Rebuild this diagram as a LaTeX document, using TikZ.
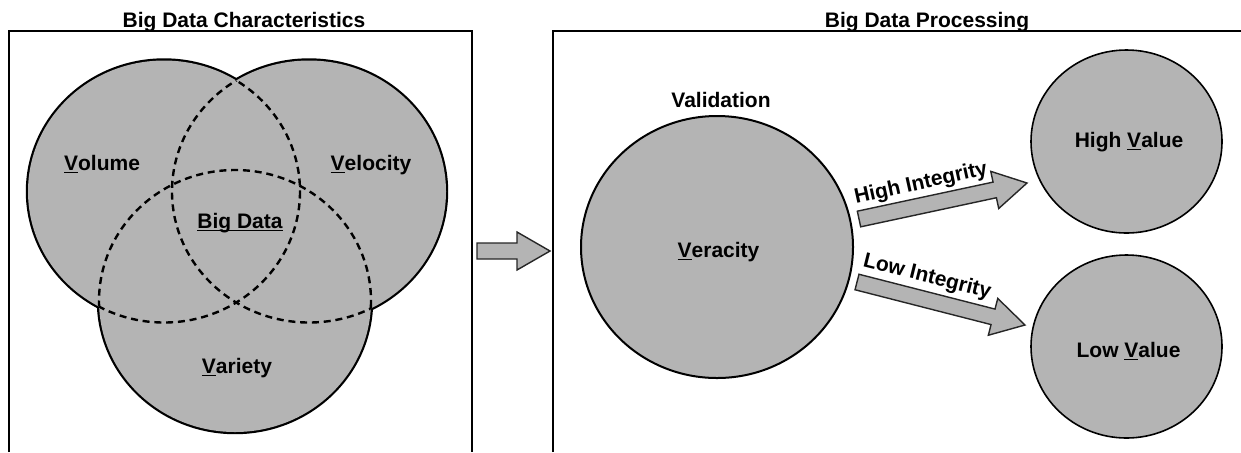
\documentclass[tikz,border=0pt]{standalone}
\usepackage{fontspec}
\setmainfont{Liberation Sans}
\usepackage{tikz}
\usetikzlibrary{calc}
\usetikzlibrary{shapes.geometric}

\definecolor{venngray}{RGB}{180,180,180}

\tikzset{
    lbl/.style = {font=\bfseries\fontsize{10.5}{12}\selectfont, anchor=base, inner sep=0pt},
    tag/.style = {font=\bfseries\fontsize{10.5}{12}\selectfont, inner sep=0pt},
    frame/.style = {line width=1pt},
    blob/.style = {draw, fill=venngray, ellipse, inner sep=0pt},
    fatarrow/.style = {draw=black!85, line width=0.7pt, fill=venngray, line join=miter},
    innerdash/.style = {line width=1.2pt, dash pattern=on 3.5pt off 2.4pt}
}

% block arrow from #1 to #2
\newcommand{\fatarrowline}[2]{%
    \coordinate (#1#2h) at ($(#2)!16.5pt!(#1)$);
    \draw [fatarrow] ($(#1)!4pt!90:(#2)$) -- ($(#1#2h)!4pt!90:(#2)$)
        -- ($(#1#2h)!9.5pt!90:(#2)$) -- (#2)
        -- ($(#1#2h)!9.5pt!-90:(#2)$) -- ($(#1#2h)!4pt!-90:(#2)$)
        -- ($(#1)!4pt!-90:(#2)$) -- cycle;
}

\begin{document}
\begin{tikzpicture}[x=0.5pt, y=-0.5pt]
\useasboundingbox (0, 0) rectangle (1241, 452);

% frames
\draw [frame] (9, 452) -- (9, 31) -- (472, 31) -- (472, 452);
\draw [frame] (553, 452) -- (553, 31) -- (1241, 31);
\node [lbl] (charTitle) at (244, 27.5) {Big Data Characteristics};
\node [lbl] (procTitle) at (927, 27.5) {Big Data Processing};

% venn
\coordinate (volume) at (164, 191.5);
\coordinate (velocity) at (309, 191.5);
\coordinate (variety) at (235, 301);

\draw [line width=2.2pt] (volume) ellipse [x radius=136, y radius=131];
\draw [line width=2.2pt] (velocity) ellipse [x radius=137, y radius=131];
\draw [line width=2.2pt] (variety) ellipse [x radius=136, y radius=131];
\fill [venngray] (volume) ellipse [x radius=136, y radius=131];
\fill [venngray] (velocity) ellipse [x radius=137, y radius=131];
\fill [venngray] (variety) ellipse [x radius=136, y radius=131];

\begin{scope}
    \clip (velocity) ellipse [x radius=137, y radius=131]
        (variety) ellipse [x radius=136, y radius=131];
    \draw [innerdash] (volume) ellipse [x radius=136, y radius=131];
\end{scope}
\begin{scope}
    \clip (volume) ellipse [x radius=136, y radius=131]
        (variety) ellipse [x radius=136, y radius=131];
    \draw [innerdash] (velocity) ellipse [x radius=137, y radius=131];
\end{scope}
\begin{scope}
    \clip (volume) ellipse [x radius=136, y radius=131]
        (velocity) ellipse [x radius=137, y radius=131];
    \draw [innerdash] (variety) ellipse [x radius=136, y radius=131];
\end{scope}

\node [lbl] (volumeText) at (102, 170) {\underline{V}olume};
\node [lbl] (velocityText) at (371, 170) {\underline{V}elocity};
\node [lbl] (bigData) at (240, 228) {\underline{\smash{Big Data}}};
\node [lbl] (varietyText) at (237, 373) {\underline{V}ariety};

% between the frames
\coordinate (midTail) at (477, 251);
\coordinate (midTip) at (550, 251);
\fatarrowline{midTail}{midTip}

% processing
\node [blob, line width=1pt, minimum width=136pt, minimum height=131pt] (veracity) at (717, 247) {};
\node [blob, line width=0.8pt, minimum width=95.5pt, minimum height=91.5pt] (highValue) at (1126.5, 141.5) {};
\node [blob, line width=0.8pt, minimum width=95.5pt, minimum height=91.5pt] (lowValue) at (1126.5, 346.5) {};

\node [lbl] (validation) at (721, 107) {Validation};
\node [lbl] (veracityText) at (718.5, 257) {\underline{V}eracity};
\node [lbl] (highText) at (1129, 147) {High \underline{V}alue};
\node [lbl] (lowText) at (1128.5, 357) {Low \underline{V}alue};

\coordinate (hiTail) at (859, 219);
\coordinate (hiTip) at (1027, 183);
\coordinate (loTail) at (857, 282);
\coordinate (loTip) at (1025, 325);
\fatarrowline{hiTail}{hiTip}
\fatarrowline{loTail}{loTip}

\node [tag, rotate=12.5] (highInt) at (921, 184) {High Integrity};
\node [tag, rotate=-14] (lowInt) at (927, 277) {Low Integrity};
\end{tikzpicture}
\end{document}
